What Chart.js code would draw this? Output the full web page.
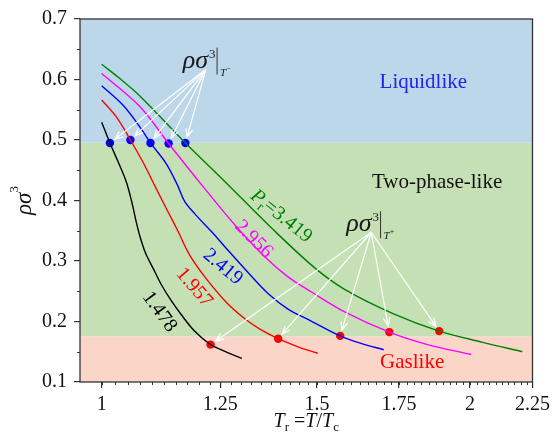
<!DOCTYPE html>
<html>
<head>
<meta charset="utf-8">
<script src="https://cdn.jsdelivr.net/npm/chart.js@4.4.1/dist/chart.umd.min.js"></script>
<style>
  html, body { margin: 0; padding: 0; background: #fff; }
</style>
</head>
<body>
<canvas id="chart" width="555" height="448"></canvas>
<script>
const FONT = '"Liberation Serif", "Times New Roman", serif';
Chart.defaults.font.family = FONT;

// reduced pressure of each isobar and its line colour
const pressures = ['1.478', '1.957', '2.419', '2.956', '3.419'];
const lineColors = ['#000000', '#ff0000', '#0000ff', '#ff00ff', '#008000'];

// isobars: [Tr, rho*sigma^3]
const isobar1478 = [[1.000,0.5295],[1.0156,0.4951],[1.0314,0.4639],[1.0473,0.4311],[1.0581,0.3984],
  [1.0660,0.3689],[1.0740,0.3426],[1.0860,0.3131],[1.1023,0.2869],[1.1189,0.2607],[1.1399,0.2344],
  [1.1614,0.2115],[1.1898,0.1852],[1.2274,0.1618],[1.2582,0.1516],[1.3019,0.1389]];
const isobar1957 = [[1.000,0.5661],[1.0283,0.5377],[1.0555,0.5000],[1.0820,0.4615],[1.1065,0.4221],
  [1.1304,0.3852],[1.1534,0.3508],[1.1788,0.3115],[1.2161,0.2721],[1.2653,0.2311],[1.3101,0.2041],
  [1.3480,0.1869],[1.3940,0.1716],[1.4469,0.1582],[1.5018,0.1475]];
const isobar2419 = [[1.000,0.5897],[1.0411,0.5574],[1.0740,0.5221],[1.0962,0.4951],[1.1287,0.4615],
  [1.1534,0.4254],[1.1690,0.3984],[1.1936,0.3762],[1.2311,0.3475],[1.2700,0.3164],[1.3182,0.2803],
  [1.3683,0.2459],[1.4202,0.2205],[1.4832,0.2008],[1.5667,0.1762],[1.6332,0.1631],[1.7005,0.1533]];
const isobar2956 = [[1.000,0.6098],[1.0740,0.5557],[1.1342,0.4943],[1.2122,0.4213],[1.2898,0.3557],
  [1.3599,0.3066],[1.4202,0.2738],[1.4832,0.2492],[1.5784,0.2164],[1.7184,0.1825],[1.8434,0.1623],
  [2.0046,0.1454]];
const isobar3419 = [[1.000,0.6251],[1.0347,0.6016],[1.0740,0.5733],[1.1707,0.4951],[1.2542,0.4361],
  [1.3767,0.3546],[1.4926,0.2890],[1.5784,0.2536],[1.7325,0.2126],[1.8875,0.1841],[2.0488,0.1656],
  [2.2073,0.1500]];
const isobars = [isobar1478, isobar1957, isobar2419, isobar2956, isobar3419];

// transition points: T- (liquidlike edge) and T+ (gaslike edge)
const tMinusTr = [1.0156, 1.0555, 1.0962, 1.1342, 1.1707];
const tMinusRho = [0.4951, 0.5000, 0.4951, 0.4943, 0.4951];
const tPlusTr = [1.2274, 1.3940, 1.5667, 1.7184, 1.8875];
const tPlusRho = [0.1618, 0.1716, 0.1762, 0.1825, 0.1841];

// state regions, bottom to top
const regionEdges = [0.1, 0.1755, 0.4955, 0.7];
const regionColors = ['#fbd5c8', '#c5e0b4', '#bdd7ea'];
const regionNames = ['Gaslike', 'Two-phase-like', 'Liquidlike'];
const regionNameColors = ['#ff0000', '#111111', '#2222ee'];
const regionNameTr = [1.794, 1.880, 1.832];
const regionNameRho = [0.123, 0.4213, 0.5852];

// isobar labels along the curves
const labelTr = [1.115, 1.190, 1.256, 1.331, 1.402];
const labelRho = [0.216, 0.256, 0.290, 0.336, 0.374];
const labelAngle = [54, 49, 40, 45, 39];

// where the annotation arrows start
const tMinusNote = [1.2165, 0.6164];
const tPlusNote = [1.661, 0.3475];

const xTicks = [1, 1.25, 1.5, 1.75, 2, 2.25];
const xMinorStep = 0.025;
const yMinor = [0.15, 0.25, 0.35, 0.45, 0.55, 0.65];

function arrow(ctx, x0, y0, x1, y1) {
  const a = Math.atan2(y1 - y0, x1 - x0);
  const h = 9;
  ctx.beginPath();
  ctx.moveTo(x0, y0);
  ctx.lineTo(x1, y1);
  ctx.moveTo(x1 - h * Math.cos(a - 0.38), y1 - h * Math.sin(a - 0.38));
  ctx.lineTo(x1, y1);
  ctx.lineTo(x1 - h * Math.cos(a + 0.38), y1 - h * Math.sin(a + 0.38));
  ctx.stroke();
}

// rho sigma^3 with a vertical bar and T-/T+ subscript
function rhoSigmaNote(ctx, x, y, sign) {
  ctx.fillStyle = '#1a1a1a';
  ctx.textAlign = 'left';
  ctx.textBaseline = 'alphabetic';
  ctx.font = 'italic 26px ' + FONT;
  ctx.fillText('ρσ', x, y);
  const w = ctx.measureText('ρσ').width;
  ctx.font = '13px ' + FONT;
  ctx.fillText('3', x + w + 1, y - 10);
  ctx.strokeStyle = '#333';
  ctx.lineWidth = 1;
  ctx.beginPath();
  ctx.moveTo(x + w + 9, y - 20);
  ctx.lineTo(x + w + 9, y + 7);
  ctx.stroke();
  ctx.font = 'italic 11px ' + FONT;
  ctx.fillText('T', x + w + 12, y + 8);
  const tw = ctx.measureText('T').width;
  ctx.font = '8px ' + FONT;
  ctx.fillText(sign, x + w + 12 + tw, y + 3);
}

// draws a row of [text, font, dy] pieces, centred on (cx, cy), rotated by deg
function pieces(ctx, parts, cx, cy, deg, color) {
  ctx.save();
  ctx.translate(cx, cy);
  ctx.rotate(deg * Math.PI / 180);
  ctx.fillStyle = color;
  ctx.textAlign = 'left';
  ctx.textBaseline = 'middle';
  let total = 0;
  for (const p of parts) { ctx.font = p[1]; total += ctx.measureText(p[0]).width; }
  let x = -total / 2;
  for (const p of parts) {
    ctx.font = p[1];
    ctx.fillText(p[0], x, p[2] || 0);
    x += ctx.measureText(p[0]).width;
  }
  ctx.restore();
}

const regionsPlugin = {
  id: 'regions',
  beforeDatasetsDraw(chart) {
    const {ctx, chartArea: a, scales: {y}} = chart;
    ctx.save();
    for (let i = 0; i < regionColors.length; i++) {
      const top = y.getPixelForValue(regionEdges[i + 1]);
      const bot = y.getPixelForValue(regionEdges[i]);
      ctx.fillStyle = regionColors[i];
      ctx.fillRect(a.left, top, a.right - a.left, bot - top);
    }
    ctx.restore();
  }
};

const decorPlugin = {
  id: 'decor',
  afterDatasetsDraw(chart) {
    const {ctx, chartArea: a, scales: {x, y}} = chart;
    ctx.save();

    // region names
    ctx.textAlign = 'center';
    ctx.textBaseline = 'alphabetic';
    ctx.font = '21px ' + FONT;
    regionNames.forEach((n, i) => {
      ctx.fillStyle = regionNameColors[i];
      ctx.fillText(n, x.getPixelForValue(regionNameTr[i]), y.getPixelForValue(regionNameRho[i]));
    });

    // isobar labels
    pressures.forEach((p, i) => {
      const cx = x.getPixelForValue(labelTr[i]);
      const cy = y.getPixelForValue(labelRho[i]);
      const parts = i === pressures.length - 1
        ? [['P', 'italic 20px ' + FONT], ['r', '13px ' + FONT, 6], ['=' + p, '20px ' + FONT]]
        : [[p, '20px ' + FONT]];
      pieces(ctx, parts, cx, cy, labelAngle[i], lineColors[i]);
    });

    // arrows to the transition points
    ctx.strokeStyle = '#ffffff';
    ctx.lineWidth = 1.2;
    const notes = [[tMinusNote, tMinusTr, tMinusRho], [tPlusNote, tPlusTr, tPlusRho]];
    notes.forEach(([o, trs, rhos]) => {
      const ox = x.getPixelForValue(o[0]);
      const oy = y.getPixelForValue(o[1]);
      trs.forEach((tr, i) => {
        const px = x.getPixelForValue(tr);
        const py = y.getPixelForValue(rhos[i]);
        const d = Math.hypot(px - ox, py - oy);
        arrow(ctx, ox, oy, px - (px - ox) / d * 6, py - (py - oy) / d * 6);
      });
    });
    rhoSigmaNote(ctx, x.getPixelForValue(tMinusNote[0]) - 23, y.getPixelForValue(tMinusNote[1]) - 2, '−');
    rhoSigmaNote(ctx, x.getPixelForValue(tPlusNote[0]) - 25, y.getPixelForValue(tPlusNote[1]) - 1, '+');

    // frame and minor ticks
    ctx.strokeStyle = '#333';
    ctx.lineWidth = 1.3;
    ctx.strokeRect(a.left, a.top, a.right - a.left, a.bottom - a.top);
    ctx.lineWidth = 1;
    ctx.beginPath();
    for (let v = xTicks[0]; v < xTicks[xTicks.length - 1]; v += xMinorStep) {
      const px = Math.round(x.getPixelForValue(v)) + 0.5;
      ctx.moveTo(px, a.bottom);
      ctx.lineTo(px, a.bottom + 3);
    }
    yMinor.forEach(v => {
      const py = Math.round(y.getPixelForValue(v)) + 0.5;
      ctx.moveTo(a.left - 3, py);
      ctx.lineTo(a.left, py);
    });
    ctx.stroke();

    // axis titles
    pieces(ctx, [['ρσ', 'italic 23px ' + FONT], ['3', '13px ' + FONT, -10]], 25, (a.top + a.bottom) / 2, -90, '#111');
    pieces(ctx, [['T', 'italic 20px ' + FONT], ['r', '13px ' + FONT, 6], [' =', '20px ' + FONT],
      ['T', 'italic 20px ' + FONT], ['/', '20px ' + FONT], ['T', 'italic 20px ' + FONT], ['c', '13px ' + FONT, 6]],
      (a.left + a.right) / 2, 422, 0, '#111');
    ctx.restore();
  }
};

const datasets = isobars.map((pts, i) => ({
  label: pressures[i],
  data: pts.map(p => ({x: p[0], y: p[1]})),
  borderColor: lineColors[i],
  borderWidth: 1.4,
  pointRadius: 0,
  showLine: true,
  fill: false,
  tension: 0.35
}));
datasets.push({
  label: 'T-',
  data: tMinusTr.map((v, i) => ({x: v, y: tMinusRho[i]})),
  showLine: false, pointRadius: 4.2, pointBackgroundColor: '#0000ff', pointBorderWidth: 0
});
datasets.push({
  label: 'T+',
  data: tPlusTr.map((v, i) => ({x: v, y: tPlusRho[i]})),
  showLine: false, pointRadius: 4.2, pointBackgroundColor: '#ff0000', pointBorderWidth: 0
});

new Chart(document.getElementById('chart'), {
  type: 'scatter',
  data: {datasets},
  options: {
    responsive: false,
    animation: false,
    devicePixelRatio: 1,
    layout: {padding: {left: 0, right: 18, top: 16, bottom: 0}},
    plugins: {legend: {display: false}, tooltip: {enabled: false}},
    scales: {
      x: {
        type: 'logarithmic',
        min: 0.96,
        max: 2.25,
        afterBuildTicks: s => { s.ticks = xTicks.map(v => ({value: v})); },
        afterFit: s => { s.height = 66; },
        ticks: {
          callback: v => String(v),
          autoSkip: false,
          maxRotation: 0,
          padding: 5,
          color: '#111',
          font: {family: FONT, size: 20}
        },
        grid: {drawOnChartArea: false, tickLength: 6, color: '#333', lineWidth: 1.2},
        border: {display: false}
      },
      y: {
        min: 0.1,
        max: 0.7,
        afterFit: s => { s.width = 80; },
        ticks: {
          stepSize: 0.1,
          callback: v => v.toFixed(1),
          padding: 7,
          color: '#111',
          font: {family: FONT, size: 20}
        },
        grid: {drawOnChartArea: false, tickLength: 6, color: '#333', lineWidth: 1.2},
        border: {display: false}
      }
    }
  },
  plugins: [regionsPlugin, decorPlugin]
});
</script>
</body>
</html>
